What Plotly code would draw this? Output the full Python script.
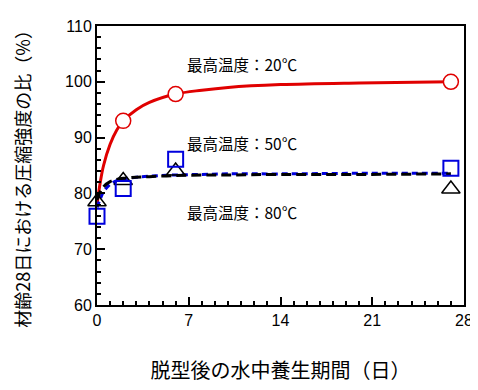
import plotly.graph_objects as go

# measured points
days = [0, 2, 6, 27]
t20 = [None, 93.0, 97.8, 100.0]
t50 = [75.9, 80.9, 86.1, 84.5]
t80 = [78.5, 82.3, 84.0, 80.8]

# fitted curves
fit_days = [0, 0.25, 0.5, 1, 1.5, 2, 3, 4, 6, 8, 10, 14, 20, 27]
fit20 = [78.0, 82.0, 85.0, 88.8, 91.3, 93.0, 95.0, 96.3, 97.8, 98.5, 99.0, 99.5, 99.8, 100.0]
fit50 = [77.5, 79.0, 80.3, 81.6, 82.3, 82.6, 82.9, 83.1, 83.3, 83.4, 83.5, 83.5, 83.6, 83.6]
fit80 = [78.8, 80.3, 81.2, 82.1, 82.5, 82.7, 82.9, 83.0, 83.2, 83.3, 83.3, 83.4, 83.4, 83.5]

labels = ["最高温度：20℃", "最高温度：50℃", "最高温度：80℃"]
label_x = [6.7, 6.7, 6.7]
label_y = [103.2, 89.1, 76.6]

y_title = "材齢28日における圧縮強度の比（%）"
x_title = "脱型後の水中養生期間（日）"

font = "'Liberation Sans', Arial, 'Noto Sans CJK JP'"
jfont = "Noto Sans CJK JP"

fig = go.Figure()
fig.add_trace(go.Scatter(x=fit_days, y=fit20, mode="lines", line=dict(color="#e00000", width=3), line_shape="spline"))
fig.add_trace(go.Scatter(x=fit_days, y=fit50, mode="lines", line=dict(color="#0000dd", width=3, dash="6px,4px"), line_shape="spline"))
fig.add_trace(go.Scatter(x=fit_days, y=fit80, mode="lines", line=dict(color="black", width=3, dash="10px,5px"), line_shape="spline"))
fig.add_trace(go.Scatter(x=days, y=t20, mode="markers", cliponaxis=False,
                         marker=dict(symbol="circle", size=15, color="white", line=dict(color="#e00000", width=1.5))))
fig.add_trace(go.Scatter(x=days, y=t80, mode="markers", cliponaxis=False,
                         marker=dict(symbol="triangle-up-open", size=16, color="black", line=dict(color="black", width=1.5))))
fig.add_trace(go.Scatter(x=days, y=t50, mode="markers", cliponaxis=False,
                         marker=dict(symbol="square-open", size=15, color="#0000dd", line=dict(color="#0000dd", width=2))))

for t, x, y in zip(labels, label_x, label_y):
    fig.add_annotation(x=x, y=y, text=t, showarrow=False, xanchor="left", yanchor="middle",
                       font=dict(family=jfont, size=15.5, color="black"))

fig.add_annotation(xref="x domain", yref="y domain", x=-0.205, y=0.47, text=y_title, textangle=-90,
                   showarrow=False, xanchor="center", yanchor="middle",
                   font=dict(family=jfont, size=18, color="black"))

fig.update_layout(
    width=478, height=390, showlegend=False,
    margin=dict(l=89, r=22, t=10, b=93),
    plot_bgcolor="white", paper_bgcolor="white",
    font=dict(family=font, size=16, color="black"),
)
fig.update_xaxes(range=[0, 28], tickmode="array", tickvals=[0, 7, 14, 21, 28],
                 ticks="inside", ticklen=8, tickwidth=2, tickcolor="black",
                 minor=dict(dtick=1, ticks="inside", ticklen=4, tickwidth=1.5, tickcolor="black"),
                 showline=True, linecolor="black", linewidth=2, mirror=True, showgrid=False, zeroline=False,
                 title=dict(text=x_title, font=dict(family=jfont, size=20), standoff=36))
fig.update_yaxes(range=[60, 110], tickmode="array", tickvals=[60, 70, 80, 90, 100, 110],
                 ticks="inside", ticklen=8, tickwidth=2, tickcolor="black",
                 minor=dict(dtick=2, ticks="inside", ticklen=4, tickwidth=1.5, tickcolor="black"),
                 showline=True, linecolor="black", linewidth=2, mirror=True, showgrid=False, zeroline=False)

fig.write_html("out.html")
